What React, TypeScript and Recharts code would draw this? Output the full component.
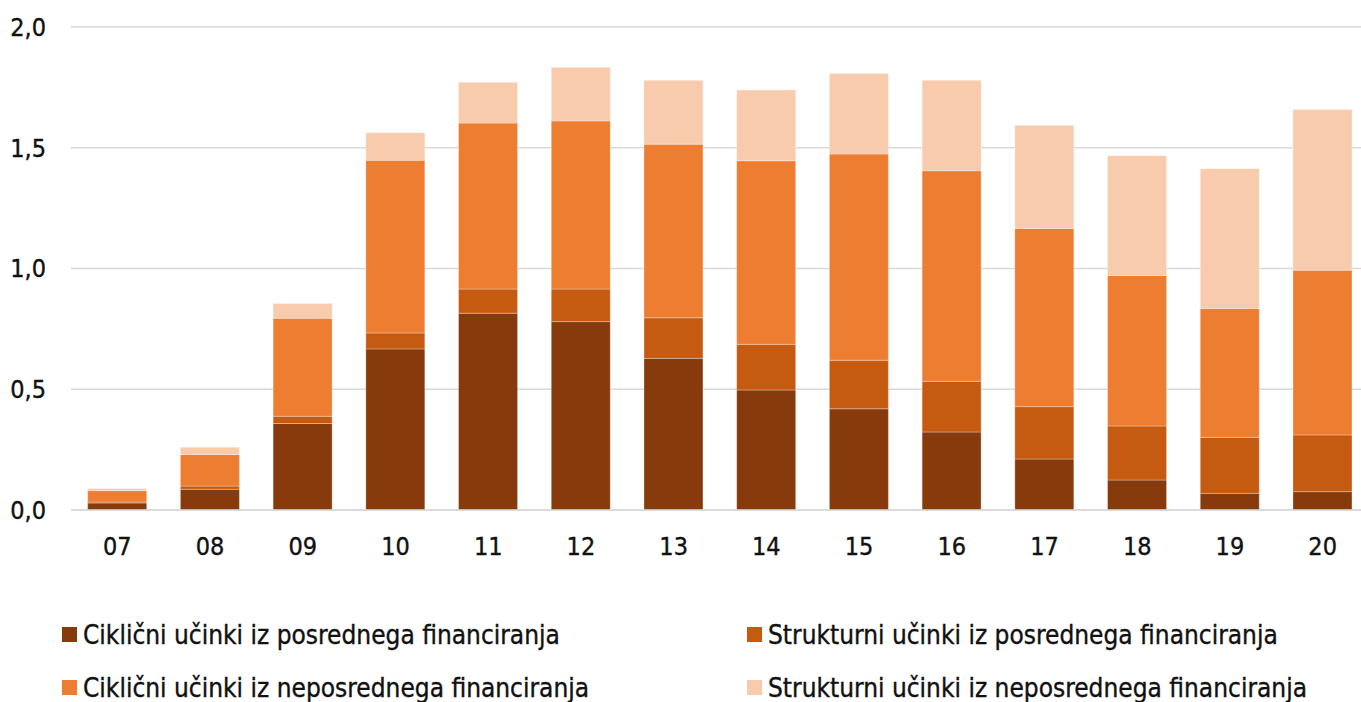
import { BarChart, Bar, XAxis, YAxis, CartesianGrid } from 'recharts'

const years = ['07', '08', '09', '10', '11', '12', '13', '14', '15', '16', '17', '18', '19', '20']
const ciklicniPosredno = [0.029, 0.086, 0.358, 0.667, 0.815, 0.78, 0.628, 0.497, 0.419, 0.323, 0.211, 0.124, 0.069, 0.076]
const strukturniPosredno = [0.004, 0.013, 0.03, 0.066, 0.1, 0.135, 0.168, 0.189, 0.201, 0.21, 0.217, 0.224, 0.232, 0.235]
const ciklicniNeposredno = [0.047, 0.131, 0.406, 0.715, 0.687, 0.696, 0.719, 0.76, 0.854, 0.872, 0.738, 0.623, 0.533, 0.682]
const strukturniNeposredno = [0.009, 0.03, 0.061, 0.114, 0.169, 0.222, 0.264, 0.293, 0.333, 0.374, 0.427, 0.496, 0.579, 0.665]
const yTicks = [0, 0.5, 1, 1.5, 2]

const series = [
  { key: 'cp', name: 'Ciklični učinki iz posrednega financiranja', color: '#873A0C' },
  { key: 'sp', name: 'Strukturni učinki iz posrednega financiranja', color: '#C55A11' },
  { key: 'cn', name: 'Ciklični učinki iz neposrednega financiranja', color: '#ED7D31' },
  { key: 'sn', name: 'Strukturni učinki iz neposrednega financiranja', color: '#F8CBAD' },
]

const data = years.map((y, i) => ({
  year: y,
  cp: ciklicniPosredno[i],
  sp: strukturniPosredno[i],
  cn: ciklicniNeposredno[i],
  sn: strukturniNeposredno[i],
}))

const font = '"DejaVu Sans Condensed", "DejaVu Sans", sans-serif'
// slight stroke to get the medium weight of the original font
const tickStyle = { fontSize: 25, fill: '#111', stroke: '#111', strokeWidth: 0.35, fontFamily: font }

// legend order: column 1 = ciklični, column 2 = strukturni
const legendSpots = [
  { s: series[0], left: 62, top: 627 },
  { s: series[1], left: 747, top: 627 },
  { s: series[2], left: 62, top: 680 },
  { s: series[3], left: 747, top: 680 },
]

export default function App() {
  return (
    <div
      style={{
        position: 'absolute',
        left: 0,
        top: 0,
        width: 1361,
        height: 702,
        overflow: 'hidden',
        background: '#fff',
        fontFamily: font,
      }}
    >
      <BarChart
        width={1370}
        height={600}
        data={data}
        margin={{ top: 27, right: 1, left: 0, bottom: 30 }}
        barCategoryGap="18%"
      >
        <CartesianGrid vertical={false} stroke="#d9d9d9" strokeWidth={1.5} />
        <XAxis
          dataKey="year"
          height={60}
          tickLine={false}
          tickSize={0}
          tickMargin={27}
          axisLine={{ stroke: '#d9d9d9', strokeWidth: 1.5 }}
          tick={tickStyle}
          interval={0}
        />
        <YAxis
          width={71}
          domain={[0, 2]}
          ticks={yTicks}
          axisLine={false}
          tickLine={false}
          tickSize={0}
          tickMargin={25}
          tick={tickStyle}
          tickFormatter={(v: number) => v.toFixed(1).replace('.', ',')}
        />
        {series.map((s) => (
          <Bar
            key={s.key}
            dataKey={s.key}
            name={s.name}
            stackId="a"
            fill={s.color}
            stroke="#ffffff"
            strokeOpacity={0.3}
            strokeWidth={1}
            isAnimationActive={false}
          />
        ))}
      </BarChart>

      {legendSpots.map(({ s, left, top }) => (
        <div
          key={s.key}
          style={{ position: 'absolute', left, top: top - 6, height: 27, display: 'flex', alignItems: 'center' }}
        >
          <div style={{ width: 15, height: 15, background: s.color, marginRight: 6 }} />
          <span
            style={{
              fontSize: 26,
              color: '#111',
              whiteSpace: 'nowrap',
              WebkitTextStroke: '0.35px #111',
            }}
          >
            {s.name}
          </span>
        </div>
      ))}
    </div>
  )
}
